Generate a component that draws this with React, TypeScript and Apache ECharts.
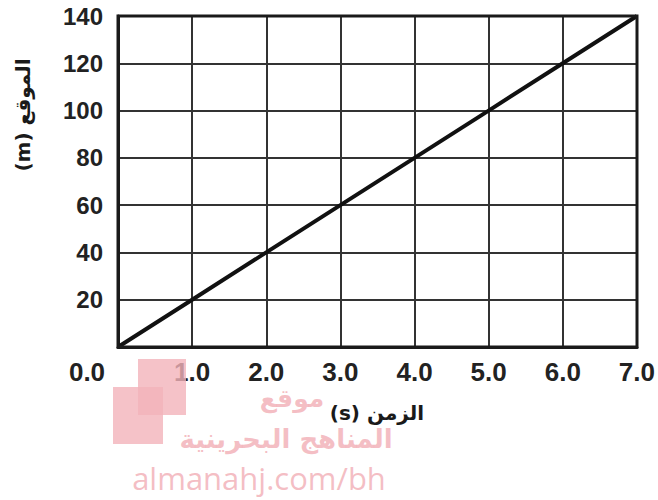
import React, { useEffect, useRef } from "react";
import * as echarts from "echarts";

const timeValues = [0, 1, 2, 3, 4, 5, 6, 7];
const positionValues = [0, 20, 40, 60, 80, 100, 120, 140];
const xTicks = [0, 1, 2, 3, 4, 5, 6, 7];
const yTicks = [0, 20, 40, 60, 80, 100, 120, 140];
const xAxisTitle = "(s) الزمن";
const yAxisTitle = "(m) الموقع";
const watermarkLines = ["موقع", "المناهج البحرينية", "almanahj.com/bh"];

export default function App() {
  const ref = useRef<HTMLDivElement>(null);
  useEffect(() => {
    if (!ref.current) return;
    const chart = echarts.init(ref.current, undefined, { renderer: "svg" });
    const pink = "#f2b3ba";
    chart.setOption({
      animation: false,
      backgroundColor: "#ffffff",
      grid: { left: 118, right: 21, top: 16, bottom: 153, containLabel: false },
      xAxis: {
        type: "value",
        min: xTicks[0],
        max: xTicks[xTicks.length - 1],
        interval: 1,
        axisLine: { show: true, lineStyle: { color: "#1a1a1a", width: 3 } },
        axisTick: { show: false },
        splitLine: { show: true, lineStyle: { color: "#333", width: 2 } },
        axisLabel: {
          margin: 12,
          color: "#222",
          fontFamily: "Liberation Sans",
          fontWeight: "bold",
          fontSize: 26,
          formatter: (v: number) => (v === 0 ? "{z|0.0}" : v.toFixed(1)),
          rich: {
            z: {
              padding: [0, 62, 0, 0],
              color: "#222",
              fontFamily: "Liberation Sans",
              fontWeight: "bold",
              fontSize: 26,
            },
          },
        },
      },
      yAxis: {
        type: "value",
        min: yTicks[0],
        max: yTicks[yTicks.length - 1],
        interval: 20,
        axisLine: { show: true, lineStyle: { color: "#1a1a1a", width: 3 } },
        axisTick: { show: false },
        splitLine: { show: true, lineStyle: { color: "#333", width: 2 } },
        axisLabel: {
          margin: 15,
          color: "#222",
          fontFamily: "Liberation Sans",
          fontWeight: "bold",
          fontSize: 24,
          formatter: (v: number) => (v === 0 ? "" : String(v)),
        },
      },
      series: [
        {
          type: "line",
          data: timeValues.map((t, i) => [t, positionValues[i]]),
          symbol: "none",
          lineStyle: { color: "#111", width: 4 },
          z: 5,
        },
      ],
      graphic: [
        {
          type: "rect",
          shape: { x: 118, y: 16, width: 519, height: 331 },
          style: { fill: "none", stroke: "#1a1a1a", lineWidth: 3 },
          z: 10,
          silent: true,
        },
        {
          type: "text",
          x: 377,
          y: 413,
          style: {
            text: xAxisTitle,
            fill: "#1a1a1a",
            font: "bold 20px 'DejaVu Sans'",
            align: "center",
            verticalAlign: "middle",
          },
          z: 10,
        },
        {
          type: "text",
          x: 23,
          y: 115,
          rotation: Math.PI / 2,
          style: {
            text: yAxisTitle,
            fill: "#1a1a1a",
            font: "bold 20px 'DejaVu Sans'",
            align: "center",
            verticalAlign: "middle",
          },
          z: 10,
        },
        {
          type: "rect",
          shape: { x: 138, y: 359, width: 48, height: 56 },
          style: { fill: pink, opacity: 0.8 },
          z: 20,
        },
        {
          type: "rect",
          shape: { x: 113, y: 387, width: 50, height: 57 },
          style: { fill: pink, opacity: 0.8 },
          z: 20,
        },
        {
          type: "text",
          x: 292,
          y: 398,
          style: {
            text: watermarkLines[0],
            fill: pink,
            opacity: 0.85,
            font: "bold 25px 'DejaVu Sans'",
            align: "center",
            verticalAlign: "middle",
          },
          z: 20,
        },
        {
          type: "text",
          x: 286,
          y: 439,
          style: {
            text: watermarkLines[1],
            fill: pink,
            opacity: 0.85,
            font: "bold 26px 'DejaVu Sans'",
            align: "center",
            verticalAlign: "middle",
          },
          z: 20,
        },
        {
          type: "text",
          x: 259,
          y: 478,
          style: {
            text: watermarkLines[2],
            fill: pink,
            opacity: 0.85,
            font: "31px 'Open Sans'",
            align: "center",
            verticalAlign: "middle",
          },
          z: 20,
        },
      ],
    });
    return () => chart.dispose();
  }, []);
  return (
    <div
      ref={ref}
      style={{ position: "fixed", left: 0, top: 0, width: 658, height: 500 }}
    />
  );
}
